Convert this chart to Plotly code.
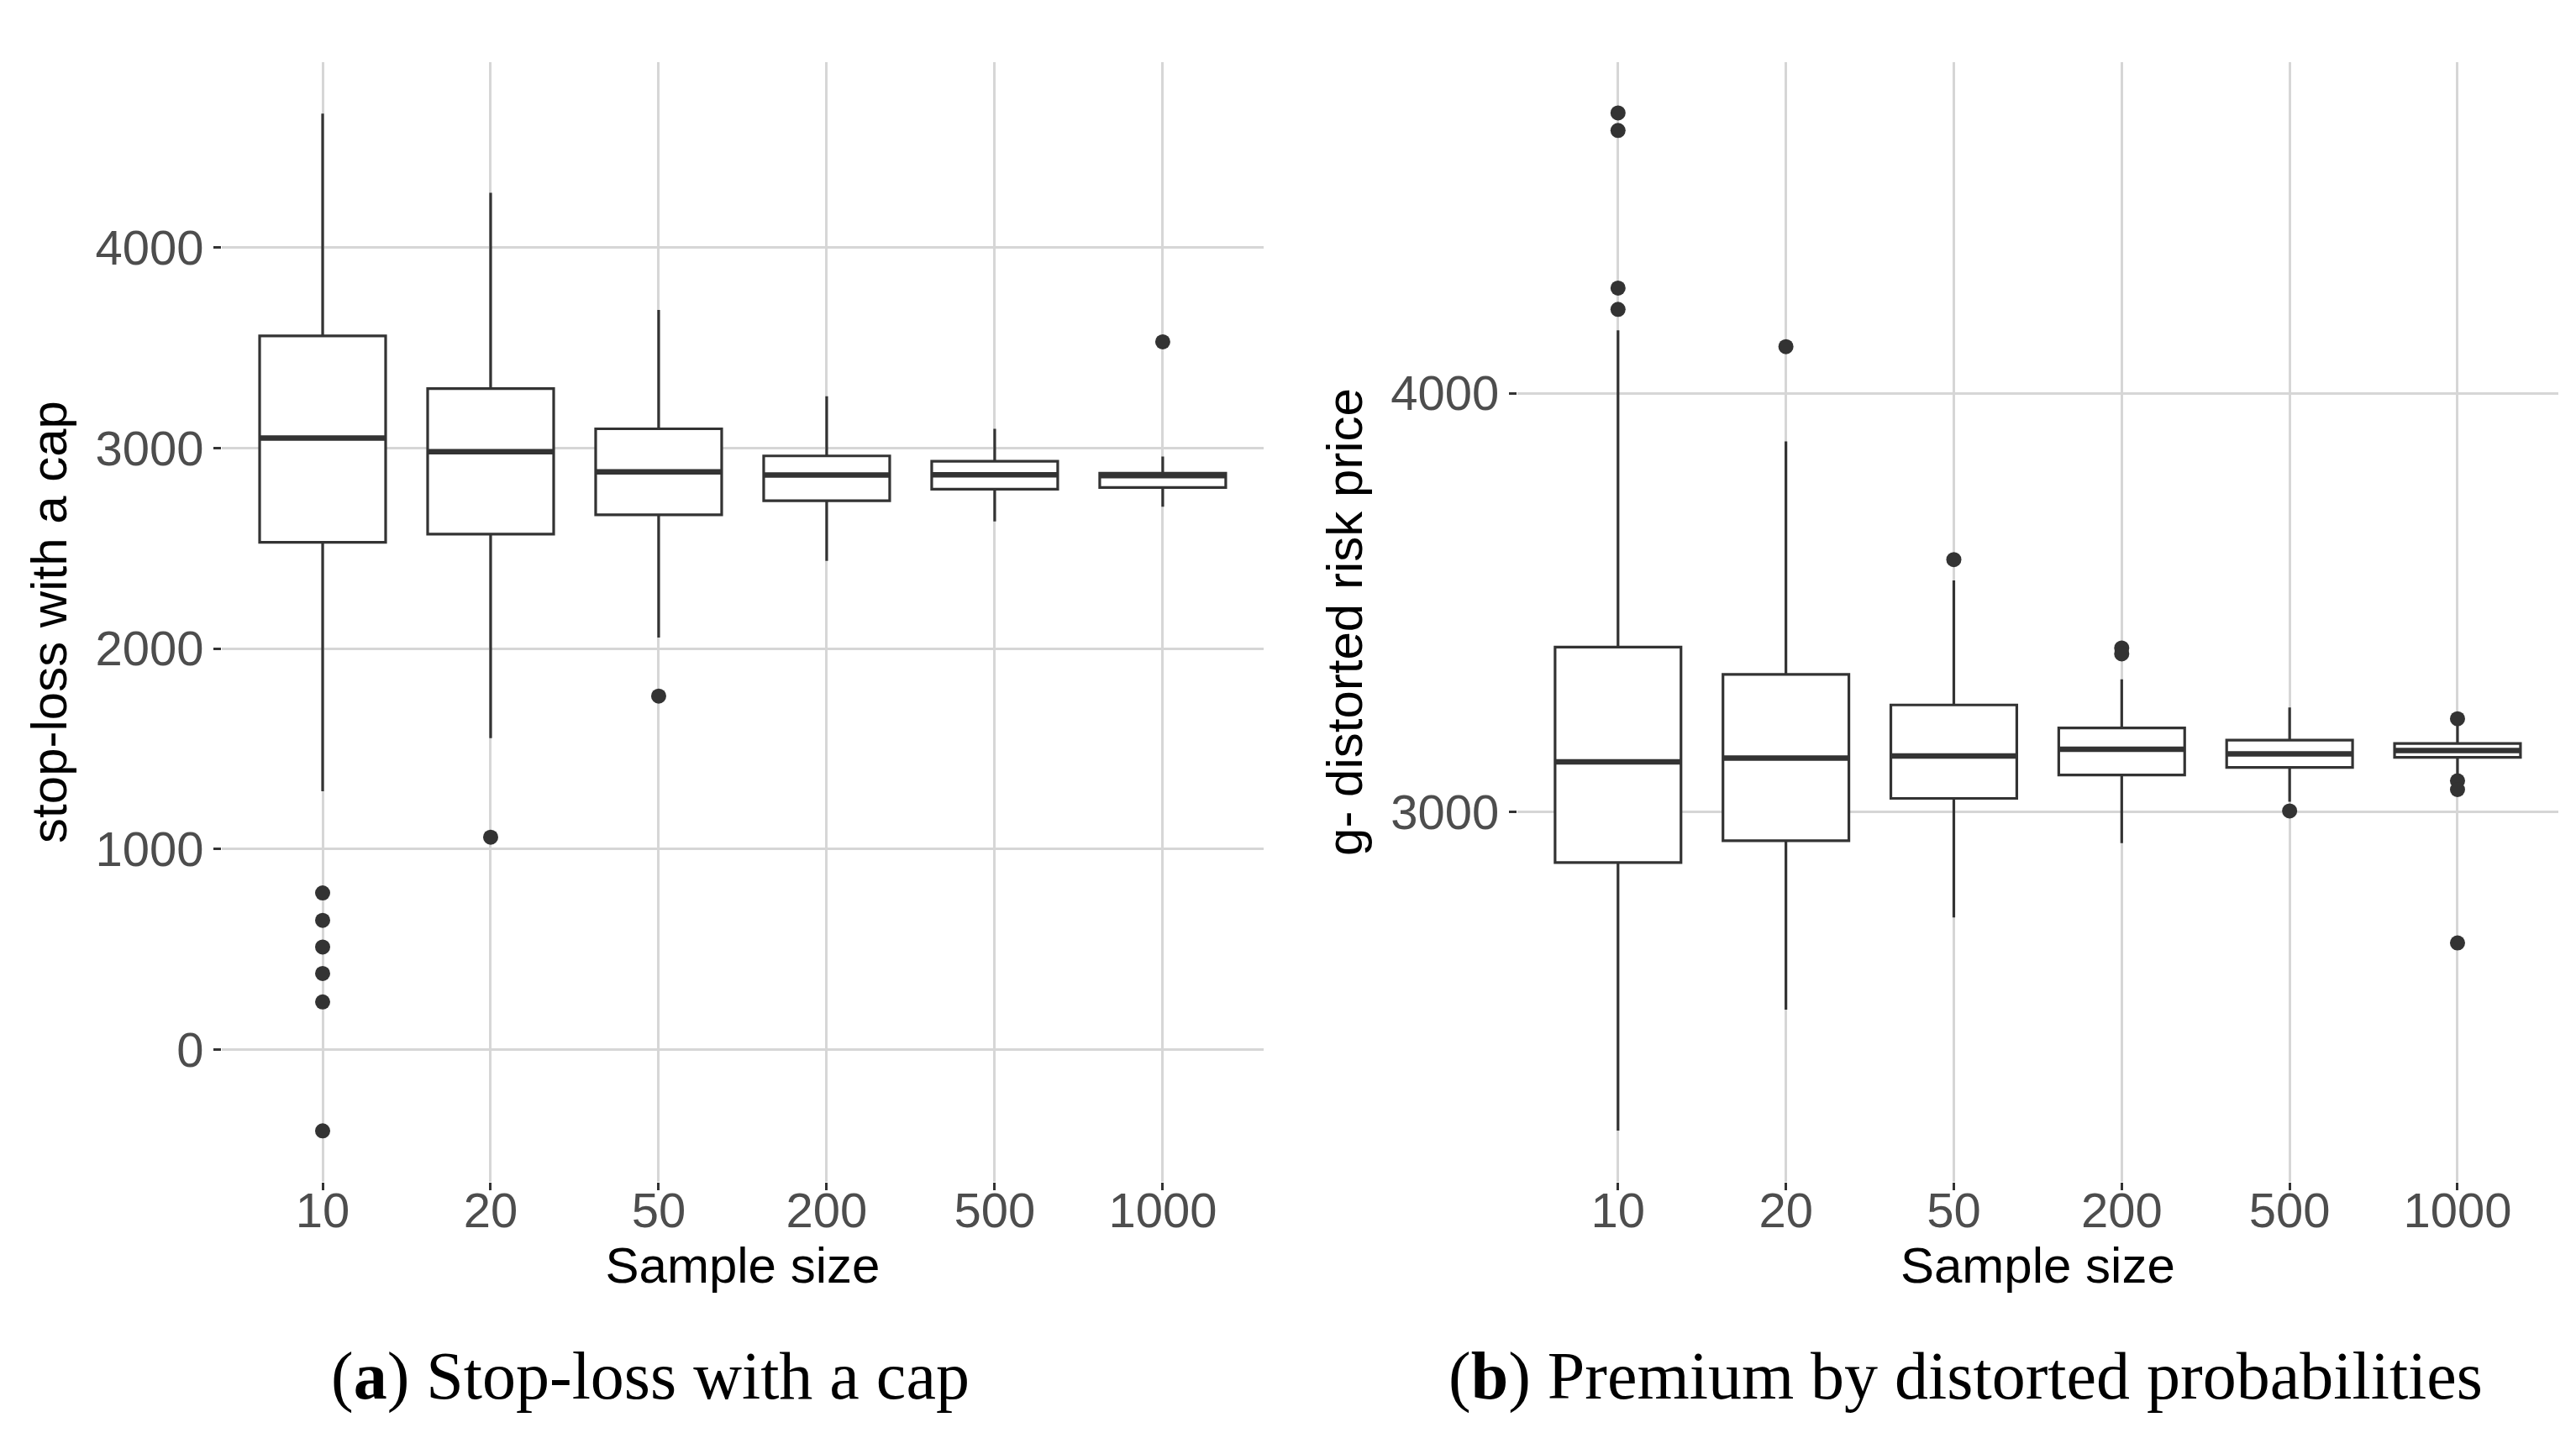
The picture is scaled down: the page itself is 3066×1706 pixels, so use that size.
import plotly.graph_objects as go
from plotly.subplots import make_subplots

sizes = ["10", "20", "50", "200", "500", "1000"]

# (a) stop-loss with a cap - box statistics per sample size
cap_q1 = [2530, 2571, 2667, 2737, 2795, 2803]
cap_median = [3050, 2982, 2881, 2866, 2867, 2863]
cap_q3 = [3560, 3297, 3096, 2961, 2934, 2875]
cap_low = [1288, 1553, 2055, 2437, 2634, 2707]
cap_high = [4668, 4274, 3689, 3258, 3096, 2958]
cap_out_x = ["10", "10", "10", "10", "10", "10", "20", "50", "1000"]
cap_out_y = [781, 644, 511, 379, 237, -406, 1059, 1763, 3530]

# (b) g-distorted risk price
dist_q1 = [2880, 2932, 3033, 3089, 3107, 3131]
dist_median = [3120, 3129, 3134, 3150, 3139, 3147]
dist_q3 = [3394, 3329, 3256, 3201, 3172, 3164]
dist_low = [2240, 2529, 2749, 2926, 3025, 3089]
dist_high = [4150, 3885, 3553, 3317, 3250, 3210]
dist_out_x = ["10", "10", "10", "10", "20", "50", "200", "200", "500",
              "1000", "1000", "1000", "1000"]
dist_out_y = [4669, 4627, 4251, 4200, 4111, 3603, 3392, 3378, 3003,
              3223, 3075, 3054, 2688]

dark = "#333333"
grid = "#D6D6D6"
tickfont = dict(family="Liberation Sans, Arial, sans-serif", size=58, color="#4D4D4D")
titlefont = dict(family="Liberation Sans, Arial, sans-serif", size=60, color="black")
box_width = 0.75

fig = make_subplots(rows=1, cols=2)

panels = [
    (1, cap_q1, cap_median, cap_q3, cap_low, cap_high, cap_out_x, cap_out_y),
    (2, dist_q1, dist_median, dist_q3, dist_low, dist_high, dist_out_x, dist_out_y),
]
for col, q1, med, q3, lo, hi, ox, oy in panels:
    fig.add_trace(go.Box(
        x=sizes, q1=q1, median=med, q3=q3, lowerfence=lo, upperfence=hi,
        width=box_width, boxpoints=False, fillcolor="white", whiskerwidth=0,
        line=dict(color=dark, width=3.2), hoverinfo="skip",
    ), row=1, col=col)
    fig.add_trace(go.Scatter(
        x=ox, y=oy, mode="markers",
        marker=dict(color=dark, size=18, line=dict(width=0)),
    ), row=1, col=col)
    # thicker median line like ggplot
    xref = "x" if col == 1 else "x2"
    yref = "y" if col == 1 else "y2"
    for i, m in enumerate(med):
        fig.add_shape(type="line", xref=xref, yref=yref,
                      x0=i - box_width / 2, x1=i + box_width / 2, y0=m, y1=m,
                      line=dict(color=dark, width=6.5))

axis_common = dict(
    showgrid=True, gridcolor=grid, gridwidth=2.5, zeroline=False, showline=False,
    ticks="outside", ticklen=9, tickwidth=2.5, tickcolor=dark, tickfont=tickfont,
)

fig.update_xaxes(**axis_common, type="category", range=[-0.6, 5.6],
                 ticklabelstandoff=-26,
                 title=dict(text="Sample size", font=titlefont, standoff=0))
fig.update_xaxes(domain=[0.0835, 0.4879], row=1, col=1)
fig.update_xaxes(domain=[0.5864, 0.9905], row=1, col=2)

fig.update_yaxes(**axis_common, domain=[0.18, 0.9613])
fig.update_yaxes(range=[-660, 4925], tickvals=[0, 1000, 2000, 3000, 4000],
                 title=dict(text="stop-loss with a cap", font=titlefont, standoff=14),
                 row=1, col=1)
fig.update_yaxes(range=[2118, 4790], tickvals=[3000, 4000],
                 title=dict(text="g- distorted risk price", font=titlefont, standoff=14),
                 row=1, col=2)

caption_font = dict(family="Liberation Serif, Times New Roman, serif", size=80, color="black")
fig.add_annotation(text="(<b>a</b>) Stop-loss with a cap", x=0.2498, y=0.044,
                   xref="paper", yref="paper", showarrow=False,
                   xanchor="center", yanchor="middle", font=caption_font)
fig.add_annotation(text="(<b>b</b>) Premium by distorted probabilities", x=0.7603, y=0.044,
                   xref="paper", yref="paper", showarrow=False,
                   xanchor="center", yanchor="middle", font=caption_font)

fig.update_layout(
    width=3066, height=1706, showlegend=False,
    margin=dict(l=0, r=0, t=0, b=0),
    plot_bgcolor="white", paper_bgcolor="white",
)

fig.write_html("out.html")
